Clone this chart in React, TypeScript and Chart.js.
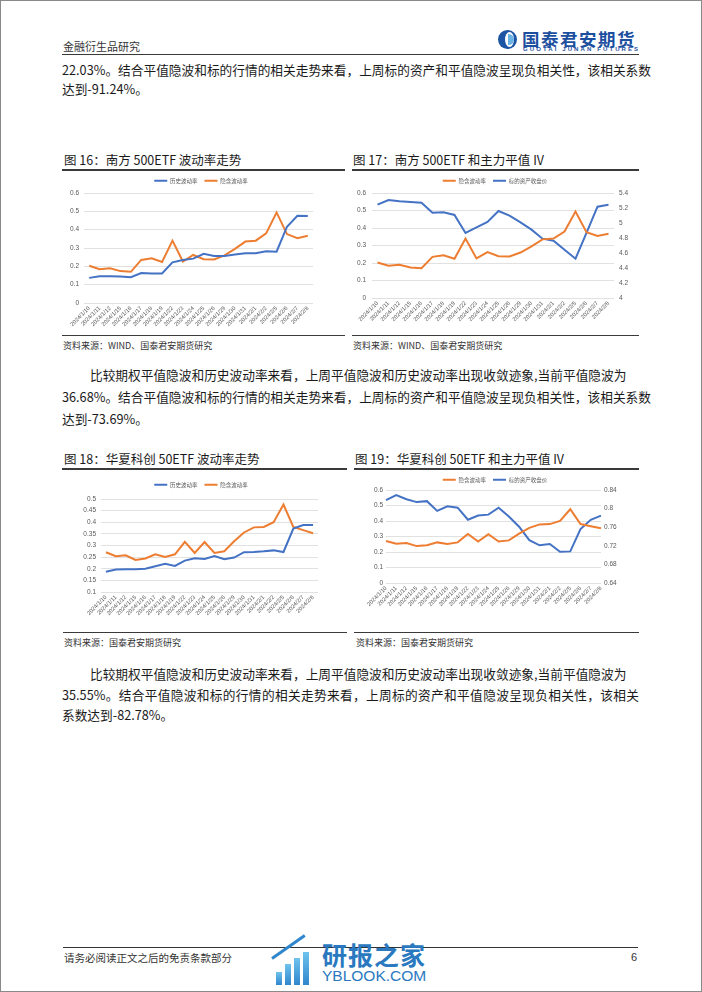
import React, { useEffect, useRef } from "react";
import { Chart, registerables } from "chart.js";
Chart.register(...registerables);

const CJK = '"Noto Sans CJK SC", "Noto Sans", sans-serif';

const dates = [
  "2024/1/10", "2024/1/11", "2024/1/12", "2024/1/15", "2024/1/16", "2024/1/17",
  "2024/1/18", "2024/1/19", "2024/1/22", "2024/1/23", "2024/1/24", "2024/1/25",
  "2024/1/26", "2024/1/29", "2024/1/30", "2024/1/31", "2024/2/1", "2024/2/2",
  "2024/2/5", "2024/2/6", "2024/2/7", "2024/2/8",
];

const etf500HistVol = [0.137, 0.146, 0.146, 0.145, 0.141, 0.163, 0.161, 0.161, 0.222, 0.235, 0.242, 0.268, 0.257, 0.257, 0.264, 0.271, 0.271, 0.282, 0.28, 0.416, 0.476, 0.474];
const etf500ImpVol = [0.203, 0.184, 0.19, 0.174, 0.17, 0.235, 0.244, 0.224, 0.34, 0.226, 0.262, 0.239, 0.237, 0.26, 0.295, 0.335, 0.34, 0.38, 0.494, 0.376, 0.354, 0.367];
const etf500Close = [5.244, 5.307, 5.289, 5.28, 5.271, 5.138, 5.142, 5.107, 4.867, 4.942, 5.013, 5.16, 5.098, 5.009, 4.911, 4.791, 4.764, 4.644, 4.524, 4.867, 5.218, 5.244];
const kc50HistVol = [0.187, 0.197, 0.198, 0.198, 0.2, 0.211, 0.221, 0.212, 0.235, 0.245, 0.242, 0.255, 0.241, 0.248, 0.271, 0.272, 0.275, 0.279, 0.272, 0.373, 0.388, 0.388];
const kc50ImpVol = [0.271, 0.254, 0.258, 0.238, 0.244, 0.262, 0.251, 0.262, 0.316, 0.268, 0.315, 0.268, 0.275, 0.318, 0.356, 0.378, 0.38, 0.4, 0.476, 0.38, 0.366, 0.353];
const kc50Close = [0.818, 0.829, 0.82, 0.814, 0.816, 0.795, 0.805, 0.802, 0.776, 0.785, 0.787, 0.802, 0.783, 0.761, 0.732, 0.721, 0.724, 0.707, 0.708, 0.756, 0.776, 0.785];

const histLabel = "历史波动率";
const impLabel = "隐含波动率";
const closeLabel = "标的资产收盘价";

const BLUE = "#4472C4";
const ORANGE = "#ED7D31";

type Series = { label: string; data: number[]; color: string; axis: string };
type AxisCfg = { min: number; max: number; step: number; width: number; pad: number };
type Cfg = {
  x: number; y: number; w: number; h: number;
  legendH: number; xH: number; padRight: number; offset: boolean;
  left: AxisCfg; right?: AxisCfg; series: Series[];
};

const fmt = (v: any) => String(parseFloat(Number(v).toFixed(3)));

function LineChart({ cfg }: { cfg: Cfg }) {
  const ref = useRef<HTMLCanvasElement>(null);
  useEffect(() => {
    const legendFix = {
      id: "legendFix",
      beforeInit(chart: any) {
        const orig = chart.legend.fit;
        chart.legend.fit = function () {
          orig.bind(chart.legend)();
          this.height = cfg.legendH;
        };
      },
    };
    const tickFont = { size: 6.5, family: '"Liberation Sans", sans-serif' };
    const scales: any = {
      x: {
        type: "category",
        offset: cfg.offset,
        grid: { display: false, drawTicks: false },
        border: { display: false },
        ticks: {
          autoSkip: false, maxRotation: 45, minRotation: 45, padding: 2,
          font: { size: 5.7, family: '"Liberation Sans", sans-serif' }, color: "#595959",
        },
        afterFit: (a: any) => { a.height = cfg.xH; },
      },
      y: {
        position: "left",
        min: cfg.left.min, max: cfg.left.max,
        ticks: { stepSize: cfg.left.step, padding: cfg.left.pad, callback: fmt, font: tickFont, color: "#595959" },
        grid: { color: "#d9d9d9", drawTicks: false, lineWidth: 0.8 },
        border: { display: false },
        afterFit: (a: any) => { a.width = cfg.left.width; },
      },
    };
    if (cfg.right) {
      const r = cfg.right;
      scales.y1 = {
        position: "right",
        min: r.min, max: r.max,
        ticks: { stepSize: r.step, padding: r.pad, callback: fmt, font: tickFont, color: "#595959" },
        grid: { display: false, drawTicks: false },
        border: { display: false },
        afterFit: (a: any) => { a.width = r.width; },
      };
    } else if (cfg.padRight > 0) {
      // empty right margin kept inside the legend's span so the legend stays centred on the canvas
      scales.yPad = {
        position: "right",
        min: 0, max: 1,
        ticks: { display: false },
        grid: { display: false, drawTicks: false },
        border: { display: false },
        afterFit: (a: any) => { a.width = cfg.padRight; },
      };
    }
    const chart = new Chart(ref.current as HTMLCanvasElement, {
      type: "line",
      data: {
        labels: dates,
        datasets: cfg.series.map((s) => ({
          label: s.label, data: s.data, borderColor: s.color, backgroundColor: s.color,
          borderWidth: 2, pointRadius: 0, tension: 0, yAxisID: s.axis,
        })),
      },
      options: {
        animation: false,
        responsive: false,
        maintainAspectRatio: false,
        layout: { padding: 0 },
        plugins: {
          legend: {
            position: "top",
            labels: {
              usePointStyle: true, pointStyle: "line", pointStyleWidth: 13, padding: 7,
              font: { size: 5.5, family: CJK }, color: "#595959",
            },
          },
          tooltip: { enabled: false },
        },
        scales,
      } as any,
      plugins: [legendFix],
    });
    return () => chart.destroy();
  }, []);
  return (
    <canvas
      ref={ref}
      width={cfg.w}
      height={cfg.h}
      style={{ position: "absolute", left: cfg.x, top: cfg.y, width: cfg.w, height: cfg.h }}
    />
  );
}

const chart16: Cfg = {
  x: 62, y: 171, w: 278, h: 161, legendH: 22, xH: 29, padRight: 27, offset: true,
  left: { min: 0, max: 0.6, step: 0.1, width: 22, pad: 5 },
  series: [
    { label: histLabel, data: etf500HistVol, color: BLUE, axis: "y" },
    { label: impLabel, data: etf500ImpVol, color: ORANGE, axis: "y" },
  ],
};
const chart17: Cfg = {
  x: 350, y: 171, w: 290, h: 161, legendH: 22, xH: 34, padRight: 0, offset: true,
  left: { min: 0, max: 0.6, step: 0.1, width: 22, pad: 6 },
  right: { min: 4, max: 5.4, step: 0.2, width: 26, pad: 5 },
  series: [
    { label: impLabel, data: etf500ImpVol, color: ORANGE, axis: "y" },
    { label: closeLabel, data: etf500Close, color: BLUE, axis: "y1" },
  ],
};
const chart18: Cfg = {
  x: 62, y: 475, w: 278, h: 153, legendH: 24, xH: 36, padRight: 22, offset: true,
  left: { min: 0.1, max: 0.5, step: 0.05, width: 39, pad: 5 },
  series: [
    { label: histLabel, data: kc50HistVol, color: BLUE, axis: "y" },
    { label: impLabel, data: kc50ImpVol, color: ORANGE, axis: "y" },
  ],
};
const chart19: Cfg = {
  x: 350, y: 470, w: 290, h: 158, legendH: 20, xH: 45, padRight: 0, offset: false,
  left: { min: 0, max: 0.6, step: 0.1, width: 36, pad: 3 },
  right: { min: 0.64, max: 0.84, step: 0.02, width: 39, pad: 3 },
  series: [
    { label: impLabel, data: kc50ImpVol, color: ORANGE, axis: "y" },
    { label: closeLabel, data: kc50Close, color: BLUE, axis: "y1" },
  ],
};

function Txt(props: {
  x: number; y: number; size: number; w?: number; just?: boolean; color?: string;
  weight?: number; ls?: number; family?: string; children: any;
}) {
  const { x, y, size, w, just, color = "#1a1a1a", weight = 400, ls = 0, family = CJK, children } = props;
  const lh = Math.round(size * 1.4);
  return (
    <div
      style={{
        position: "absolute", left: x, top: y - lh / 2, width: w, fontSize: size,
        lineHeight: lh + "px", whiteSpace: "nowrap", color, fontWeight: weight,
        letterSpacing: ls, fontFamily: family,
        textAlign: just ? "justify" : "left", textAlignLast: just ? "justify" : "auto",
      } as any}
    >
      {children}
    </div>
  );
}

function Rule({ x, y, w, h = 1.5, c = "#3a3a3a" }: { x: number; y: number; w: number; h?: number; c?: string }) {
  return <div style={{ position: "absolute", left: x, top: y, width: w, height: h, background: c }} />;
}

const p1 = [
  "22.03%。结合平值隐波和标的行情的相关走势来看，上周标的资产和平值隐波呈现负相关性，该相关系数",
  "达到-91.24%。",
];
const p2 = [
  "比较期权平值隐波和历史波动率来看，上周平值隐波和历史波动率出现收敛迹象,当前平值隐波为",
  "36.68%。结合平值隐波和标的行情的相关走势来看，上周标的资产和平值隐波呈现负相关性，该相关系数",
  "达到-73.69%。",
];
const p3 = [
  "比较期权平值隐波和历史波动率来看，上周平值隐波和历史波动率出现收敛迹象,当前平值隐波为",
  "35.55%。结合平值隐波和标的行情的相关走势来看，上周标的资产和平值隐波呈现负相关性，该相关",
  "系数达到-82.78%。",
];

export default function App() {
  const PS = 12.7;
  return (
    <div style={{ position: "absolute", left: 0, top: 0, width: 702, height: 992, background: "#fff", overflow: "hidden", fontFamily: CJK }}>
      <div style={{ position: "absolute", left: 0, top: 0, width: 702, height: 992, boxSizing: "border-box", border: "1px solid #8a8a8a" }} />

      {/* header */}
      <Txt x={63} y={46} size={11} color="#333">金融衍生品研究</Txt>
      <div style={{ position: "absolute", left: 498, top: 30, width: 19, height: 19, borderRadius: "50%", background: "#1d55a5" }} />
      <div style={{ position: "absolute", left: 505, top: 32, width: 9, height: 15, borderRadius: "50%", background: "#fff" }} />
      <div style={{ position: "absolute", left: 508, top: 34, width: 6, height: 11, borderRadius: "0 6px 6px 0 / 0 6px 6px 0", background: "#6bb2e4" }} />
      <Txt x={522} y={38} size={17.5} weight={700} color="#1d4f9f" ls={1.5}>国泰君安期货</Txt>
      <Txt x={523} y={48.5} size={6} weight={700} color="#1d4f9f" ls={2.1} family='"Liberation Sans", sans-serif'>GUOTAI JUNAN FUTURES</Txt>
      <Rule x={62} y={53.5} w={577} />

      {/* paragraph 1 */}
      <Txt x={62} y={70} size={PS} w={577} just>{p1[0]}</Txt>
      <Txt x={62} y={89} size={PS}>{p1[1]}</Txt>

      {/* figures 16/17 */}
      <Txt x={64} y={160} size={12.5}>图 16：南方 500ETF 波动率走势</Txt>
      <Txt x={353} y={160} size={12.5}>图 17：南方 500ETF 和主力平值 IV</Txt>
      <Rule x={62} y={169} w={283} />
      <Rule x={352} y={169} w={287} />
      <LineChart cfg={chart16} />
      <LineChart cfg={chart17} />
      <Rule x={62} y={334.5} w={283} />
      <Rule x={352} y={334.5} w={287} />
      <Txt x={63} y={345} size={9} color="#333">资料来源：WIND、国泰君安期货研究</Txt>
      <Txt x={353} y={345} size={9} color="#333">资料来源：WIND、国泰君安期货研究</Txt>

      {/* paragraph 2 */}
      <Txt x={90} y={375} size={PS}>{p2[0]}</Txt>
      <Txt x={62} y={397} size={PS} w={577} just>{p2[1]}</Txt>
      <Txt x={62} y={419} size={PS}>{p2[2]}</Txt>

      {/* figures 18/19 */}
      <Txt x={64} y={459} size={12.5}>图 18：华夏科创 50ETF 波动率走势</Txt>
      <Txt x={355} y={459} size={12.5}>图 19：华夏科创 50ETF 和主力平值 IV</Txt>
      <Rule x={62} y={468} w={285} />
      <Rule x={354} y={468} w={285} />
      <LineChart cfg={chart18} />
      <LineChart cfg={chart19} />
      <Rule x={63} y={631.5} w={284} />
      <Rule x={354} y={631.5} w={285} />
      <Txt x={64} y={642} size={9} color="#333">资料来源：国泰君安期货研究</Txt>
      <Txt x={356} y={642} size={9} color="#333">资料来源：国泰君安期货研究</Txt>

      {/* paragraph 3 */}
      <Txt x={90} y={674} size={PS}>{p3[0]}</Txt>
      <Txt x={62} y={695} size={PS} w={577} just>{p3[1]}</Txt>
      <Txt x={62} y={715} size={PS}>{p3[2]}</Txt>

      {/* footer */}
      <Rule x={63} y={946.5} w={575} h={1.5} c="#333" />
      <Txt x={64} y={957} size={10.5} color="#333">请务必阅读正文之后的免责条款部分</Txt>
      <Txt x={631} y={957} size={11} color="#333" family='"Liberation Sans", sans-serif'>6</Txt>

      {/* yblook watermark */}
      <div style={{ position: "absolute", left: 276, top: 972, width: 6, height: 13, background: "linear-gradient(#6fc3ee,#2f86cc)" }} />
      <div style={{ position: "absolute", left: 285, top: 964, width: 6, height: 21, background: "linear-gradient(#6fc3ee,#2f86cc)" }} />
      <div style={{ position: "absolute", left: 294, top: 958, width: 6, height: 27, background: "linear-gradient(#6fc3ee,#2f86cc)" }} />
      <div style={{ position: "absolute", left: 303, top: 952, width: 6, height: 33, background: "linear-gradient(#6fc3ee,#2f86cc)" }} />
      <div style={{ position: "absolute", left: 272, top: 957, width: 40, height: 3, background: "#2f86cc", transform: "rotate(-35deg)", transformOrigin: "left center" }} />
      <Txt x={322} y={954} size={25} weight={700} color="#2a79c0" ls={1}>研报之家</Txt>
      <Txt x={322} y={976} size={15.5} color="#2a79c0" family='"Liberation Sans", sans-serif'>YBLOOK.COM</Txt>
    </div>
  );
}
